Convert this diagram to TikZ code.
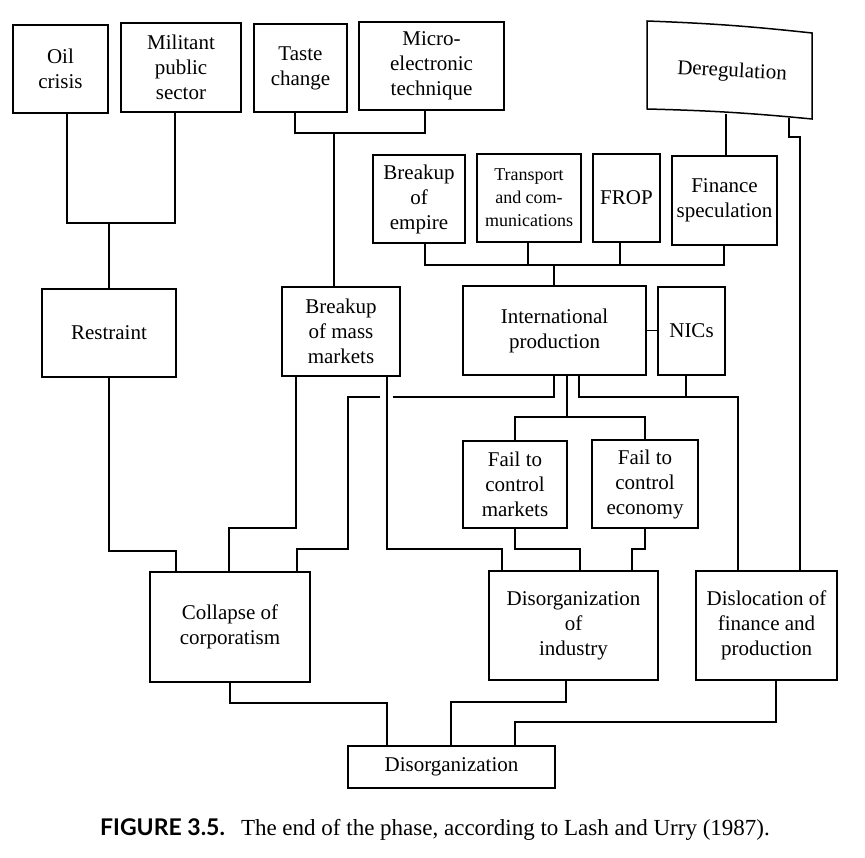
\documentclass[tikz,border=0pt]{standalone}
\usepackage{fontspec}
\setmainfont{Liberation Serif}
\newfontfamily\capfont{Lato}

\begin{document}
\begin{tikzpicture}[
    x=1pt, y=-1pt,
    every node/.style={font=\fontsize{21}{25}\selectfont, align=center, inner sep=0pt},
    cell/.style={draw, line width=1.5pt},
    dims/.style 2 args={minimum width=#1, minimum height=#2},
    link/.style={line width=1.5pt}
]
    \useasboundingbox (0, 0) rectangle (865, 858);

    % causes
    \node[cell, dims={95}{88}]  (oil)       at (60.5, 69)   {Oil\\crisis};
    \node[cell, dims={120}{89}] (mil)       at (181, 67.5)  {Militant\\public\\sector};
    \node[cell, dims={93}{88}]  (taste)     at (300.5, 68)  {Taste\\change};
    \node[cell, dims={145}{88}] (micro)     at (431.5, 66)  {Micro-\\electronic\\technique};
    \node[rotate=-3]            (dereg)     at (732, 72)    {Deregulation};
    \draw[link] (647, 21) to[bend left=2] (812, 33) -- (812, 119) to[bend right=2] (647, 109) -- cycle;

    \node[cell, dims={92}{88}]  (empire)    at (419, 199)   {Breakup\\of\\empire};
    \node[cell, dims={104}{88}, font=\fontsize{18}{23}\selectfont]
                                (transport) at (529, 198)   {Transport\\and com-\\munications};
    \node[cell, dims={67}{88}]  (frop)      at (626.5, 198) {FROP};
    \node[cell, dims={105}{89}] (finance)   at (724.5, 200.5) {Finance\\speculation};

    \node[cell, dims={134}{88}] (restraint) at (109, 333)   {Restraint};
    \node[cell, dims={118}{89}] (massmkt)   at (341, 331.5) {Breakup\\of mass\\markets};
    \node[cell, dims={183}{89}] (intprod)   at (554.5, 330.5) {International\\production};
    \node[cell, dims={67}{88}]  (nics)      at (691.5, 331) {NICs};

    \node[cell, dims={104}{87}] (failmkt)   at (515, 484.5) {Fail to\\control\\markets};
    \node[cell, dims={106}{88}] (failecon)  at (645, 484)   {Fail to\\control\\economy};

    % effects
    \node[cell, dims={160}{110}] (collapse) at (230, 627)   {Collapse of\\corporatism};
    \node[cell, dims={169}{109}] (disind)   at (573.5, 625.5) {Disorganization\\of\\industry};
    \node[cell, dims={141}{109}] (disloc)   at (766.5, 625.5) {Dislocation of\\finance and\\production};
    \node[cell, dims={207}{42}]  (disorg)   at (451.5, 767) {Disorganization};

    \node (caption) at (435, 830) {\fontsize{23}{27}\selectfont{\capfont\bfseries FIGURE 3.5.}\hspace{16pt}The end of the phase, according to Lash and Urry (1987).};

    % Connections
    \coordinate (j1) at (109, 223);
    \draw[link] (oil.south -| 67,0) |- (j1) -| (mil.south -| 175,0);
    \draw[link] (j1) -- (restraint.north);

    \coordinate (j2) at (334, 133);
    \draw[link] (taste.south -| 295,0) |- (j2) -| (micro.south -| 425,0);
    \draw[link] (j2) -- (massmkt.north -| j2);

    \coordinate (j3) at (554, 265);
    \draw[link] (empire.south -| 425,0) |- (j3) -| (finance.south -| 724,0);
    \draw[link] (transport.south -| 528,0) -- (j3 -| 528,0);
    \draw[link] (frop.south -| 620,0) -- (j3 -| 620,0);
    \draw[link] (j3) -- (intprod.north -| j3);

    \coordinate (dregL) at (726, 114);
    \coordinate (dregR) at (789, 118);
    \coordinate (j5) at (800, 137);
    \draw[link] (dregL) -- (finance.north -| dregL);
    \draw[link] (dregR) |- (j5) -- (disloc.north -| j5);

    \draw[link] (intprod.east) -- (nics.west |- intprod.east);

    \coordinate (gapR) at (393, 397);
    \coordinate (gapL) at (380, 397);
    \coordinate (k1) at (348, 549);
    \draw[link] (intprod.south -| 554,0) |- (gapR);
    \draw[link] (gapL) -| (k1) -| (collapse.north -| 297,0);

    \coordinate (j7) at (567, 417);
    \draw[link] (intprod.south -| j7) -- (j7);
    \draw[link] (failmkt.north) |- (j7) -| (failecon.north);

    \coordinate (j8) at (686, 397);
    \draw[link] (intprod.south -| 579,0) |- (j8) -| (disloc.north -| 738,0);
    \draw[link] (nics.south -| j8) -- (j8);

    \coordinate (k2) at (229, 528);
    \draw[link] (massmkt.south -| 296,0) |- (k2) -- (collapse.north -| k2);
    \coordinate (k3) at (502, 549);
    \draw[link] (massmkt.south -| 387,0) |- (k3) -- (disind.north -| k3);
    \coordinate (k4) at (176, 551);
    \draw[link] (restraint.south) |- (k4) -- (collapse.north -| k4);
    \coordinate (k5) at (580, 549);
    \draw[link] (failmkt.south) |- (k5) -- (disind.north -| k5);
    \coordinate (k6) at (632, 549);
    \draw[link] (failecon.south) |- (k6) -- (disind.north -| k6);

    \coordinate (k7) at (387, 703);
    \draw[link] (collapse.south) |- (k7) -- (disorg.north -| k7);
    \coordinate (k8) at (451, 702);
    \draw[link] (disind.south -| 566,0) |- (k8) -- (disorg.north -| k8);
    \coordinate (k9) at (515, 722);
    \draw[link] (disloc.south -| 776,0) |- (k9) -- (disorg.north -| k9);
\end{tikzpicture}
\end{document}
